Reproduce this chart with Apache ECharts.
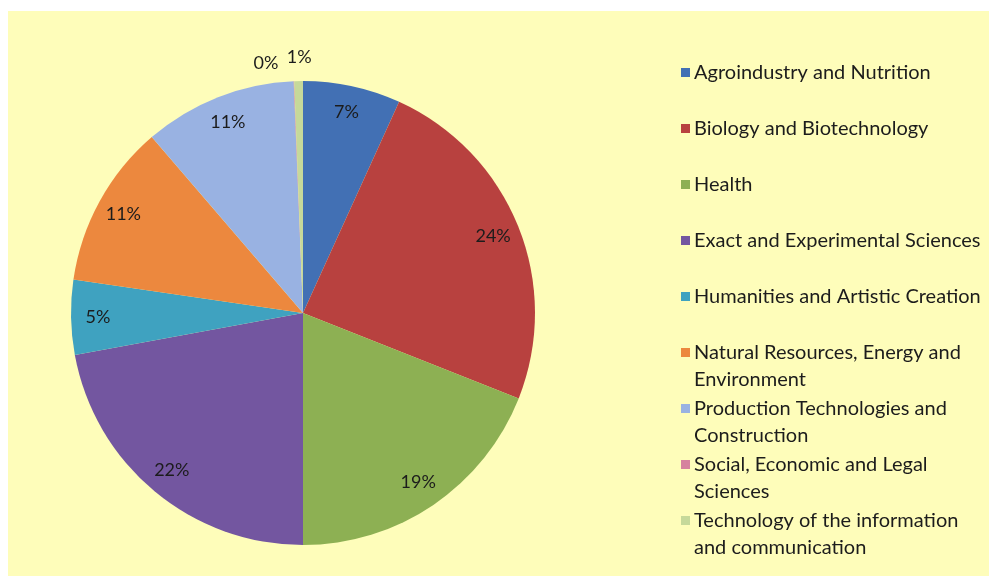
<!DOCTYPE html>
<html>
<head>
<meta charset="utf-8">
<script src="https://cdn.jsdelivr.net/npm/echarts@6/dist/echarts.min.js"></script>
<style>
  html, body { margin: 0; padding: 0; background: #ffffff; }
  /* pale yellow chart area */
  #chart { position: absolute; left: 8px; top: 11px; width: 981px; height: 565px; background: #fefdba; }
</style>
</head>
<body>
<div id="chart"></div>
<script>
// categories
const areas = [
  'Agroindustry and Nutrition',
  'Biology and Biotechnology',
  'Health',
  'Exact and Experimental Sciences',
  'Humanities and Artistic Creation',
  'Natural Resources, Energy and Environment',
  'Production Technologies and Construction',
  'Social, Economic and Legal Sciences',
  'Technology of the information and communication'
]
// share of each area (percent)
const shares = [6.8, 24.2, 19.0, 22.1, 5.2, 11.4, 10.66, 0.04, 0.6]
// how the legend text breaks
const legendLines = [
  ['Agroindustry and Nutrition'],
  ['Biology and Biotechnology'],
  ['Health'],
  ['Exact and Experimental Sciences'],
  ['Humanities and Artistic Creation'],
  ['Natural Resources, Energy and', 'Environment'],
  ['Production Technologies and', 'Construction'],
  ['Social, Economic and Legal', 'Sciences'],
  ['Technology of the information', 'and communication']
]
const colors = ['#4270b4', '#b8413f', '#8db053', '#7356a0', '#3fa2c0', '#ec883e', '#99b2e2', '#d6829e', '#c6d99a']

const font = 'Lato, "Open Sans", sans-serif'
const chart = echarts.init(document.getElementById('chart'))

// coloured squares for the legend, one rich style per item
const rich = { g: { width: 4 }, i: { width: 13 }, t: { fontSize: 20, fontFamily: font, color: '#1c1c1c', lineHeight: 27 } }
colors.forEach((c, k) => {
  rich['s' + k] = { width: 9, height: 9, backgroundColor: c }
})

const pieData = areas.map((name, k) => ({ name: name, value: shares[k] }))

chart.setOption({
  color: colors,
  animation: false,
  legend: {
    orient: 'vertical',
    left: 667,
    top: 48,
    padding: 0,
    icon: 'none',
    itemWidth: 1,
    itemHeight: 1,
    itemGap: 2,
    selectedMode: false,
    data: areas,
    formatter: (name) => {
      const k = areas.indexOf(name)
      const lines = legendLines[k]
      let s = '{s' + k + '|}{g|}{t|' + lines[0] + '}'
      // every item is two lines tall so they sit evenly
      s += '\n{i|}{t|' + (lines[1] || ' ') + '}'
      return s
    },
    textStyle: { fontSize: 20, fontFamily: font, color: '#1c1c1c', lineHeight: 27, rich: rich }
  },
  series: [
    {
      // the pie itself
      type: 'pie',
      center: [295, 302],
      radius: [0, 232],
      startAngle: 90,
      clockwise: true,
      silent: true,
      label: { show: false },
      labelLine: { show: false },
      itemStyle: { borderWidth: 0 },
      data: pieData
    },
    {
      // transparent ring only used to put the labels near the rim
      type: 'pie',
      center: [295, 302],
      radius: [172, 232],
      startAngle: 90,
      clockwise: true,
      silent: true,
      itemStyle: { color: 'rgba(0,0,0,0)', borderWidth: 0 },
      label: {
        show: true,
        position: 'inside',
        fontSize: 18,
        fontFamily: font,
        color: '#1c1c1c',
        formatter: (p) => Math.round(p.value) + '%'
      },
      labelLine: { show: false },
      // the two tiny slices have their labels lifted above the pie
      labelLayout: (p) => {
        if (p.dataIndex === 7) return { dx: -29, dy: -45 }
        if (p.dataIndex === 8) return { dx: 0, dy: -51 }
        return {}
      },
      data: pieData
    }
  ]
})
</script>
</body>
</html>
